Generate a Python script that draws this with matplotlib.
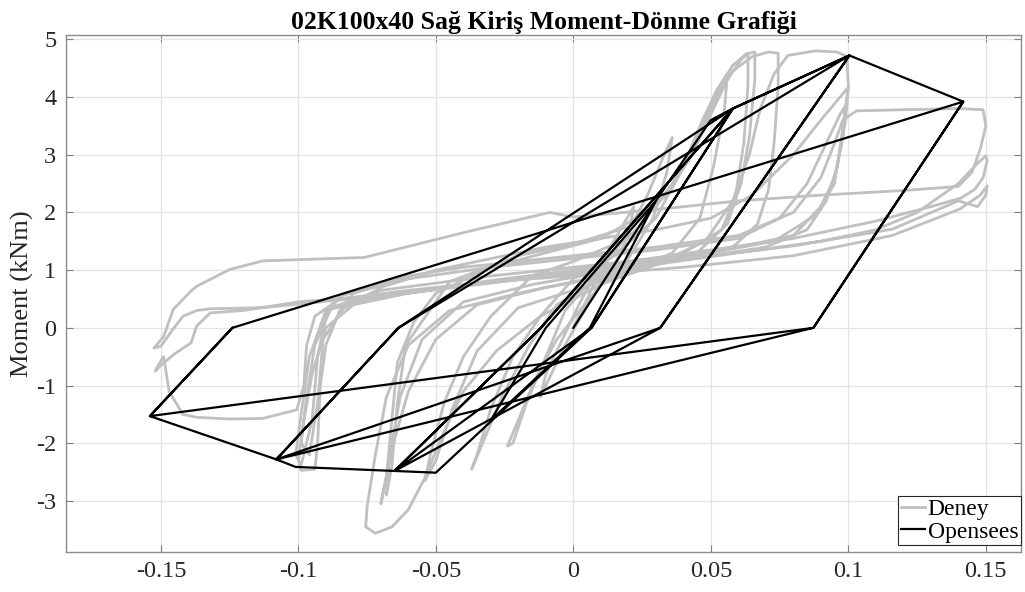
import matplotlib
matplotlib.use("Agg")
import matplotlib.pyplot as plt
import numpy as np

# Deney (test) - rotation / moment, cycle by cycle
deney_rot = [
    0.0, 0.004, 0.009, 0.012, 0.010, 0.004, -0.003, -0.009, -0.012, -0.010, -0.004,
    0.002, 0.010, 0.017, 0.022, 0.020, 0.013, 0.004, -0.006, -0.014, -0.020, -0.024, -0.022, -0.017, -0.010,
    -0.003, 0.008, 0.018, 0.027, 0.033, 0.036, 0.034, 0.029, 0.020, 0.008, -0.006, -0.016, -0.026, -0.033, -0.037, -0.035, -0.030, -0.022,
    -0.012, 0.000, 0.015, 0.030, 0.040, 0.047, 0.052, 0.056, 0.055, 0.051, 0.046, 0.036, 0.020, 0.000, -0.020, -0.035, -0.044, -0.050, -0.054, -0.052, -0.047, -0.040, -0.030,
    -0.015, 0.000, 0.020, 0.035, 0.045, 0.052, 0.058, 0.063, 0.066, 0.066, 0.064, 0.061, 0.056, 0.045, 0.020, -0.010, -0.035, -0.050, -0.060, -0.066, -0.069, -0.070, -0.068, -0.066, -0.064, -0.058,
    -0.050, -0.030, -0.010, 0.010, 0.030, 0.042, 0.050, 0.056, 0.061, 0.0635, 0.0635, 0.062, 0.059, 0.054, 0.040, 0.015, -0.015, -0.040, -0.055, -0.063, -0.067, -0.068, -0.066, -0.064, -0.061,
    -0.045, -0.020, 0.000, 0.020, 0.035, 0.045, 0.052, 0.058, 0.065, 0.071, 0.0745, 0.0745, 0.073, 0.071, 0.067, 0.058, 0.040, 0.020, 0.000, -0.020, -0.045, -0.060, -0.068, -0.072, -0.075, -0.0755, -0.072, -0.066, -0.060, -0.054, -0.048, -0.040, -0.028, -0.012,
    0.010, 0.030, 0.048, 0.058, 0.064, 0.068, 0.073, 0.078, 0.088, 0.096, 0.0995, 0.100, 0.098, 0.095, 0.088, 0.073, 0.044, 0.020, 0.000, -0.030, -0.060, -0.080, -0.090, -0.095, -0.098, -0.100, -0.099, -0.094, -0.093, -0.092, -0.090, -0.085,
    -0.070, -0.050, -0.030, -0.010, 0.010, 0.030, 0.050, 0.065, 0.080, 0.090, 0.097, 0.100, 0.099, 0.096, 0.092, 0.085, 0.070, 0.040, 0.000, -0.040, -0.070, -0.090, -0.096, -0.099, -0.101, -0.099, -0.095, -0.093, -0.090,
    -0.085, -0.060, -0.030, 0.000, 0.030, 0.060, 0.075, 0.085, 0.092, 0.097, 0.099, 0.098, 0.095, 0.090, 0.080, 0.050, 0.010, -0.030, -0.070, -0.088, -0.094, -0.097, -0.099, -0.096, -0.093, -0.091,
    -0.080, -0.060, -0.040, -0.020, 0.000, 0.030, 0.060, 0.080, 0.090, 0.095, 0.098, 0.103, 0.120, 0.140, 0.149, 0.150, 0.148, 0.145, 0.140, 0.120, 0.090, 0.060, 0.030, 0.000,
    -0.0085, -0.040, -0.076, -0.113, -0.125, -0.137, -0.139, -0.1455, -0.149, -0.1525, -0.150, -0.146, -0.142, -0.137, -0.132, -0.113, -0.064, -0.0085, 0.030, 0.060, 0.090, 0.110, 0.125, 0.140, 0.147, 0.150, 0.1505, 0.149, 0.146, 0.141, 0.130, 0.110, 0.080, 0.050, 0.020, 0.000,
    -0.030, -0.064, -0.100, -0.120, -0.132, -0.137, -0.139, -0.145, -0.1505, -0.152, -0.151, -0.149, -0.147, -0.142, -0.137, -0.125, -0.113, -0.1006, -0.098, -0.097, -0.094, -0.085, -0.060, -0.030, 0.000, 0.040, 0.080, 0.116, 0.1406, 0.148, 0.1505, 0.150, 0.147,
    0.140, 0.116, 0.080, 0.050, 0.020, 0.000,
]
deney_mom = [
    0.0, 0.4, 0.9, 1.25, 0.8, 0.3, -0.3, -0.9, -1.2, -0.8, -0.2,
    0.4, 1.1, 1.7, 2.1, 1.6, 0.9, 0.4, -0.2, -0.9, -1.6, -2.05, -2.0, -1.3, -0.5,
    0.3, 0.9, 1.5, 2.3, 3.0, 3.3, 2.7, 1.9, 1.2, 0.8, 0.4, -0.3, -1.2, -2.0, -2.45, -2.2, -1.4, -0.5,
    0.2, 0.85, 1.25, 1.9, 2.8, 3.6, 4.1, 4.4, 3.8, 2.8, 1.9, 1.3, 0.95, 0.65, 0.35, -0.4, -1.4, -2.3, -2.65, -2.2, -1.3, -0.5, 0.2,
    0.9, 1.15, 1.55, 2.4, 3.3, 4.1, 4.55, 4.75, 4.78, 4.3, 3.3, 2.5, 1.8, 1.3, 0.95, 0.70, 0.40, -0.2, -1.1, -2.1, -2.8, -3.05, -2.6, -1.6, -0.6, 0.1,
    0.6, 1.05, 1.3, 1.55, 2.1, 2.9, 3.7, 4.3, 4.65, 4.75, 4.2, 3.2, 2.3, 1.7, 1.3, 1.0, 0.75, 0.45, -0.2, -1.2, -2.3, -2.9, -2.4, -1.3, -0.3,
    0.8, 1.25, 1.45, 1.75, 2.35, 3.2, 4.0, 4.45, 4.7, 4.78, 4.76, 4.2, 3.2, 2.4, 1.8, 1.4, 1.2, 1.0, 0.8, 0.6, 0.3, -0.3, -1.2, -2.2, -3.1, -3.45, -3.56, -3.45, -3.15, -2.6, -1.9, -1.1, -0.4, 0.2,
    0.75, 1.1, 1.5, 2.2, 3.0, 3.8, 4.4, 4.72, 4.8, 4.78, 4.7, 4.2, 3.45, 2.5, 1.95, 1.5, 1.25, 1.1, 0.95, 0.8, 0.6, 0.4, 0.0, -0.8, -1.6, -2.3, -2.47, -2.45, -2.0, -1.0, -0.3, 0.3,
    0.7, 1.0, 1.2, 1.4, 1.55, 1.7, 1.9, 2.3, 3.0, 3.6, 4.0, 4.17, 3.6, 2.8, 2.2, 1.7, 1.4, 1.18, 0.95, 0.75, 0.55, 0.3, -0.5, -1.5, -2.2, -2.38, -1.6, -0.5, 0.2,
    0.55, 0.85, 1.05, 1.2, 1.35, 1.55, 1.9, 2.5, 3.2, 3.7, 3.85, 3.3, 2.6, 2.1, 1.6, 1.3, 1.1, 0.9, 0.65, 0.35, -0.3, -1.2, -2.0, -2.2, -1.3, -0.2,
    0.6, 0.9, 1.05, 1.15, 1.25, 1.4, 1.6, 2.0, 2.6, 3.2, 3.6, 3.76, 3.78, 3.8, 3.78, 3.5, 3.1, 2.7, 2.45, 2.38, 2.3, 2.2, 2.05, 1.92,
    2.0, 1.65, 1.22, 1.16, 1.01, 0.72, 0.64, 0.32, -0.15, -0.35, -0.32, -0.05, 0.2, 0.3, 0.33, 0.35, 0.58, 0.9, 1.1, 1.3, 1.5, 1.7, 2.0, 2.5, 2.85, 2.98, 2.9, 2.6, 2.4, 2.25, 2.1, 1.85, 1.55, 1.35, 1.15, 1.0,
    0.82, 0.58, 0.45, 0.3, 0.26, 0.03, -0.26, -0.45, -0.67, -0.75, -0.65, -0.5, -1.1, -1.5, -1.55, -1.58, -1.57, -1.42, -1.0, -0.3, 0.2, 0.5, 0.65, 0.8, 0.9, 1.05, 1.25, 1.6, 2.06, 2.3, 2.46, 2.3, 2.1,
    2.2, 1.71, 1.42, 1.25, 1.05, 0.9,
]

# Opensees model - rotation / moment at the corner points of the response
ops_rot = [0.0, 0.030, 0.006, -0.030, -0.010, 0.030, 0.050, 0.058, 0.0066, -0.050, -0.065,
           -0.0118, 0.058, 0.0066, -0.065, -0.0118, 0.058, 0.1004, 0.0316, -0.065, -0.101,
           -0.108, -0.0636, 0.058, 0.1004, 0.0316, -0.108, -0.0636, 0.1004, 0.1418, 0.0873,
           -0.108, -0.154, -0.124, 0.1418, 0.0873, -0.154, -0.124]
ops_mom = [0.0, 2.2, 0.0, -1.6, 0.0, 2.2, 3.6, 3.80, 0.0, -2.51, -2.48,
           0.0, 3.80, 0.0, -2.48, 0.0, 3.80, 4.72, 0.0, -2.48, -2.41,
           -2.28, 0.0, 3.80, 4.72, 0.0, -2.28, 0.0, 4.72, 3.92, 0.0,
           -2.28, -1.53, 0.0, 3.92, 0.0, -1.53, 0.0]

x_ticks = [-0.15, -0.1, -0.05, 0, 0.05, 0.1, 0.15]
x_labels = ['-0.15', '-0.1', '-0.05', '0', '0.05', '0.1', '0.15']
y_ticks = [-3, -2, -1, 0, 1, 2, 3, 4, 5]
y_labels = ['-3', '-2', '-1', '0', '1', '2', '3', '4', '5']

plt.rcParams['font.family'] = ['Liberation Serif', 'DejaVu Serif']
plt.rcParams['axes.unicode_minus'] = False

fig = plt.figure(figsize=(10.25, 5.92), dpi=100)
ax = fig.add_axes([0.0644, 0.0681, 0.9317, 0.8728])

ax.plot(deney_rot, deney_mom, color='#c0c0c0', lw=2.0, label='Deney', zorder=2)
ax.plot(ops_rot, ops_mom, color='black', lw=1.6, label='Opensees', zorder=3)

ax.set_xlim(-0.1845, 0.1628)
ax.set_ylim(-3.879, 5.075)
ax.set_xticks(x_ticks)
ax.set_xticklabels(x_labels)
ax.set_yticks(y_ticks)
ax.set_yticklabels(y_labels)
ax.grid(True, color='#e3e3e3', lw=0.9)
ax.set_axisbelow(True)
ax.tick_params(direction='in', length=5, width=0.8, color='#808080',
               labelcolor='#262626', labelsize=17.5, top=True, right=True, pad=7)
for s in ax.spines.values():
    s.set_color('#8c8c8c')
    s.set_linewidth(1.0)

ax.set_ylabel('Moment (kNm)', fontsize=19, color='#262626')
ax.yaxis.set_label_coords(-0.033, 0.5)
ax.set_title('02K100x40 Sağ Kiriş Moment-Dönme Grafiği', fontsize=18.5,
             fontweight='bold', pad=4)

leg = ax.legend(loc='lower right', bbox_to_anchor=(1.0, 0.012), fontsize=17,
                handlelength=1.0, handletextpad=0.12, borderpad=0.12,
                labelspacing=0.05, borderaxespad=0.0, fancybox=False, framealpha=1)
leg.get_frame().set_edgecolor('#262626')
leg.get_frame().set_linewidth(0.8)

fig.savefig('out.png', dpi=100)
